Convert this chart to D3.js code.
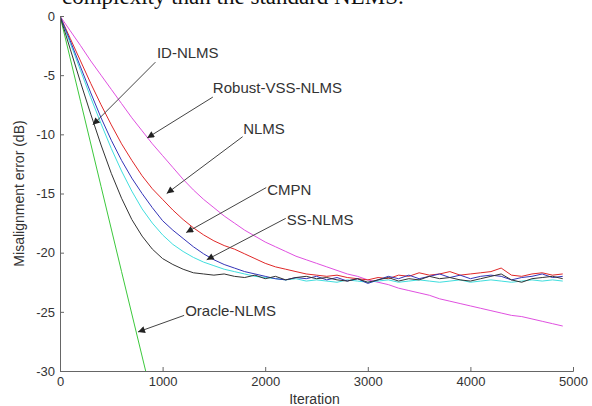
<!DOCTYPE html>
<html><head><meta charset="utf-8">
<script src="https://cdn.jsdelivr.net/npm/d3@7"></script>
<style>body{margin:0;background:#fff}svg{display:block}</style>
</head><body>
<svg id="c" width="592" height="406"></svg>
<script>
const iterations = d3.range(0, 5000, 100);
const oracleIter = [0, 200, 400, 600, 835];
const oracleNLMS = [0, -7.2, -14.4, -21.6, -30];
const idNLMS = [0,-2.8,-5.6,-8.3,-10.9,-13.3,-15.4,-17.2,-18.6,-19.7,-20.5,-21.0,-21.4,-21.7,-21.8,-21.9,-21.8,-22.0,-22.1,-21.9,-22.2,-22.0,-22.3,-22.1,-22.0,-22.2,-22.1,-22.3,-22.4,-22.2,-22.5,-22.3,-22.1,-22.4,-22.2,-22.3,-22.0,-22.2,-22.1,-22.3,-22.4,-22.2,-22.0,-21.8,-22.3,-22.5,-22.2,-22.1,-22.0,-22.2];
const ssNLMS = [0,-2.3,-4.6,-6.9,-9.1,-11.2,-13.1,-14.8,-16.3,-17.5,-18.5,-19.3,-19.9,-20.4,-20.8,-21.1,-21.4,-21.6,-21.8,-22.0,-22.1,-22.2,-22.3,-22.2,-22.4,-22.3,-22.4,-22.5,-22.3,-22.4,-22.5,-22.4,-22.3,-22.5,-22.4,-22.3,-22.4,-22.5,-22.4,-22.3,-22.5,-22.4,-22.3,-22.4,-22.5,-22.4,-22.3,-22.4,-22.3,-22.4];
const cmpn = [0,-2.1,-4.3,-6.5,-8.6,-10.5,-12.2,-13.7,-15.0,-16.2,-17.3,-18.1,-18.8,-19.5,-20.1,-20.6,-21.0,-21.3,-21.6,-21.8,-22.0,-22.2,-22.3,-22.1,-22.2,-22.0,-22.3,-22.1,-22.4,-22.2,-22.6,-22.3,-22.0,-22.2,-21.9,-22.2,-22.0,-21.8,-22.1,-21.9,-22.2,-22.0,-21.9,-22.0,-22.3,-22.1,-22.0,-21.8,-22.1,-22.0];
const nlms = [0,-1.9,-3.8,-5.7,-7.5,-9.2,-10.8,-12.2,-13.5,-14.6,-15.5,-16.4,-17.2,-17.9,-18.5,-19.0,-19.4,-19.7,-20.1,-20.5,-20.9,-21.2,-21.4,-21.6,-21.8,-21.9,-22.0,-21.9,-22.1,-22.2,-22.3,-22.1,-22.2,-21.9,-22.0,-21.7,-21.9,-21.8,-21.6,-21.9,-21.8,-21.7,-21.6,-21.3,-21.9,-22.0,-21.8,-21.7,-21.9,-21.8];
const robustVSS = [0,-1.25,-2.5,-3.8,-5.0,-6.2,-7.4,-8.6,-9.7,-10.8,-11.8,-12.8,-13.8,-14.7,-15.5,-16.2,-16.9,-17.5,-18.1,-18.6,-19.1,-19.5,-19.9,-20.3,-20.6,-20.9,-21.2,-21.5,-21.8,-22.0,-22.3,-22.5,-22.7,-23.0,-23.2,-23.4,-23.6,-23.9,-24.1,-24.3,-24.5,-24.7,-24.9,-25.1,-25.3,-25.4,-25.6,-25.8,-26.0,-26.2];
const xTicks = [0, 1000, 2000, 3000, 4000, 5000];
const yTicks = [0, -5, -10, -15, -20, -25, -30];
const labels = ["ID-NLMS","Robust-VSS-NLMS","NLMS","CMPN","SS-NLMS","Oracle-NLMS"];
// annotation anchors in data units (iteration, dB)
const annText = [[945,-3.1],[1490,-6.1],[1785,-9.5],[2020,-14.7],[2210,-17.2],[1220,-24.9]];
const annFrom = [[930,-3.9],[1490,-6.85],[1780,-10.2],[2010,-14.5],[2200,-17.1],[1210,-25.3]];
const annTo = [[320,-9.2],[850,-10.3],[1040,-15.0],[1230,-18.3],[1430,-20.6],[760,-26.7]];

const svg = d3.select("#c");
const x = d3.scaleLinear().domain([0,5000]).range([60,573]);
const y = d3.scaleLinear().domain([-30,0]).range([371,16]);

svg.append("text").attr("x",62).attr("y",4).attr("font-family","Liberation Serif, Times New Roman, serif")
  .attr("font-size",23).attr("fill","#111").text("complexity than the standard NLMS.");

const defs = svg.append("defs");
defs.append("marker").attr("id","ah").attr("viewBox","0 0 10 10").attr("refX",10).attr("refY",5)
  .attr("markerWidth",10).attr("markerHeight",7).attr("markerUnits","userSpaceOnUse").attr("orient","auto")
  .append("path").attr("d","M0,0L10,5L0,10z").attr("fill","#222");

defs.append("clipPath").attr("id","clip").append("rect").attr("x",60).attr("y",10).attr("width",520).attr("height",361);

const g = svg.append("g").attr("clip-path","url(#clip)");
const line = d3.line().x(d=>x(d[0])).y(d=>y(d[1]));
const series = [
  [oracleIter, oracleNLMS, "#3cc83c"],
  [iterations, robustVSS, "#e050e0"],
  [iterations, nlms, "#e02828"],
  [iterations, ssNLMS, "#40dede"],
  [iterations, cmpn, "#3434b8"],
  [iterations, idNLMS, "#333333"],
];
series.forEach(([xs, ys, c]) => {
  g.append("path").attr("d", line(xs.map((v,i)=>[v, ys[i]]))).attr("fill","none").attr("stroke",c).attr("stroke-width",1);
});

// axes
const xa = svg.append("g").attr("transform",`translate(0,${y(-30)})`)
  .call(d3.axisBottom(x).tickValues(xTicks).tickSize(-4).tickPadding(6).tickFormat(d3.format("d")));
const ya = svg.append("g").attr("transform",`translate(${x(0)},0)`)
  .call(d3.axisLeft(y).tickValues(yTicks).tickSize(-4).tickPadding(5).tickFormat(d=>d===0?"0":String(d)));
[xa, ya].forEach(a => {
  a.select(".domain").attr("stroke","#666");
  a.selectAll(".tick line").attr("stroke","#666");
  a.selectAll("text").attr("font-family","Liberation Sans, Arial, sans-serif").attr("font-size",13).attr("fill","#333");
});

svg.append("text").attr("x",x(2480)).attr("y",404).attr("text-anchor","middle")
  .attr("font-family","Liberation Sans, Arial, sans-serif").attr("font-size",14).attr("fill","#333").text("Iteration");
svg.append("text").attr("transform",`translate(24,${y(-15)}) rotate(-90)`).attr("text-anchor","middle")
  .attr("font-family","Liberation Sans, Arial, sans-serif").attr("font-size",14).attr("fill","#333").text("Misalignment error (dB)");

// annotations
labels.forEach((t,i)=>{
  svg.append("line").attr("x1",x(annFrom[i][0])).attr("y1",y(annFrom[i][1]))
    .attr("x2",x(annTo[i][0])).attr("y2",y(annTo[i][1])).attr("stroke","#444").attr("stroke-width",1).attr("marker-end","url(#ah)");
  svg.append("text").attr("x",x(annText[i][0])).attr("y",y(annText[i][1])).attr("dy","0.35em")
    .attr("font-family","Liberation Sans, Arial, sans-serif").attr("font-size",15).attr("fill","#333").text(t);
});
</script>
</body></html>
